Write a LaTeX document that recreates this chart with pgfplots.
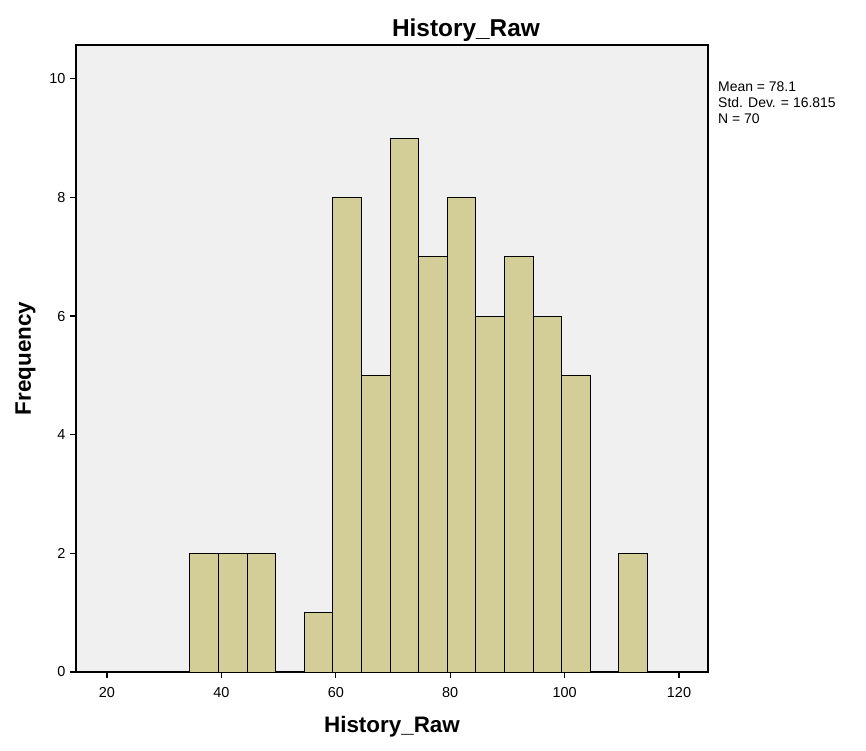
\documentclass[border=0pt]{standalone}
\usepackage{pgfplots}
\pgfplotsset{compat=1.18}
\usepackage{fontspec}
\setmainfont{Liberation Sans}
\definecolor{barfill}{RGB}{211,206,151}
\definecolor{bgfill}{RGB}{240,240,240}
\begin{document}
\begin{tikzpicture}
\begin{axis}[
  scale only axis,
  width=632bp, height=627bp,
  xmin=14.58, xmax=125.07,
  ymin=0, ymax=10.57,
  axis background/.style={fill=bgfill},
  axis line style={black, line width=1.2pt},
  xtick={20,40,...,120},
  ytick={0,2,...,10},
  tick align=outside,
  xtick pos=bottom, ytick pos=left,
  major tick length=6bp,
  tick style={black, line width=1.2pt},
  /pgf/number format/assume math mode=true,
  ticklabel style={font=\fontsize{14.5}{16}\selectfont},
  xticklabel style={yshift=-6bp},
  yticklabel style={xshift=-1bp},
  xlabel={History\_Raw},
  ylabel={Frequency},
  label style={font=\bfseries\fontsize{22.5}{26}\selectfont},
  xlabel style={yshift=-12bp},
  ylabel style={yshift=7bp},
]
\addplot[ybar interval, fill=barfill, draw=black, line width=1pt] coordinates {
(34.5,2) (39.5,2) (44.5,2) (49.5,0) (54.5,1) (59.5,8) (64.5,5) (69.5,9)
(74.5,7) (79.5,8) (84.5,6) (89.5,7) (94.5,6) (99.5,5) (104.5,0) (109.5,2) (114.5,0)
};
\end{axis}
\node[font=\bfseries\fontsize{24.5}{28}\selectfont, inner sep=0pt]
  at ([xshift=74bp, yshift=15bp]current axis.north) {History\_Raw};
\node[anchor=north west, align=left, font=\fontsize{14}{16}\selectfont, inner sep=0pt]
  at ([xshift=10bp, yshift=-37bp]current axis.north east)
  {Mean = 78.1\\Std. Dev. = 16.815\\N = 70};
\path ([xshift=-76bp, yshift=-79bp]current axis.south west) rectangle ([xshift=158bp, yshift=45bp]current axis.north east);
\end{tikzpicture}
\end{document}
